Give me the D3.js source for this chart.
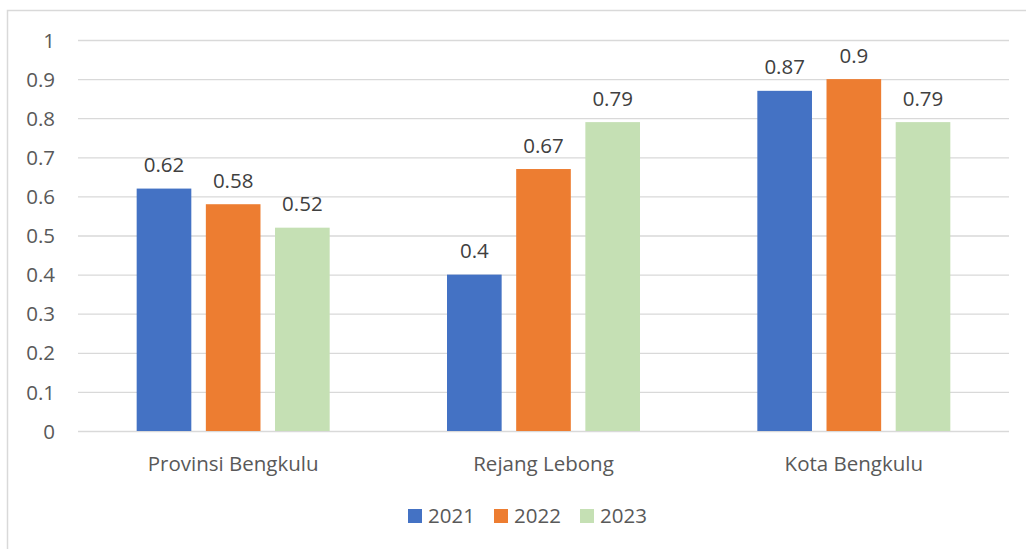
<!DOCTYPE html>
<html><head><meta charset="utf-8">
<script src="https://cdn.jsdelivr.net/npm/d3@7"></script>
<style>body{margin:0;background:#fff}svg{display:block}text{font-family:"Open Sans",sans-serif}</style>
</head><body>
<svg id="c" width="1026" height="549"></svg>
<script>
const categories = ["Provinsi Bengkulu", "Rejang Lebong", "Kota Bengkulu"];
const seriesNames = ["2021", "2022", "2023"];
const values2021 = [0.62, 0.4, 0.87];
const values2022 = [0.58, 0.67, 0.9];
const values2023 = [0.52, 0.79, 0.79];
const yTicks = [0, 0.1, 0.2, 0.3, 0.4, 0.5, 0.6, 0.7, 0.8, 0.9, 1];
const colors = ["#4472C4", "#ED7D31", "#C5E0B4"];

const series = [values2021, values2022, values2023];
const svg = d3.select("#c");
svg.append("rect").attr("x", 7.5).attr("y", 10.5).attr("width", 1040).attr("height", 560)
  .attr("fill", "#fff").attr("stroke", "#D9D9D9").attr("stroke-width", 1.5);

const plotL = 78, plotR = 1009, plotT = 40, plotB = 431;
const y = d3.scaleLinear().domain([0, 1]).range([plotB, plotT]);
const x0 = d3.scaleBand().domain(categories).range([plotL, plotR]);
const x1 = d3.scaleBand().domain(seriesNames).range([-96.5, 96.5]).paddingInner(0.21);

const grid = svg.append("g").attr("transform", `translate(${plotL},0)`)
  .call(d3.axisLeft(y).tickValues(yTicks).tickSize(-(plotR - plotL)).tickFormat(d => d3.format("")(d)));
grid.select(".domain").remove();
grid.selectAll(".tick line").attr("stroke", "#D9D9D9").attr("stroke-width", 1.3);
grid.selectAll(".tick text").attr("x", -23).attr("fill", "#595959")
  .style("font-size", "20.5px").style("font-family", "'Open Sans',sans-serif").attr("dy", "0.35em");

categories.forEach((cat, ci) => {
  const g = svg.append("g").attr("transform", `translate(${x0(cat) + x0.bandwidth() / 2},0)`);
  seriesNames.forEach((s, si) => {
    const v = series[si][ci];
    g.append("rect").attr("x", x1(s)).attr("y", y(v)).attr("width", x1.bandwidth())
      .attr("height", y(0) - y(v)).attr("fill", colors[si]);
    g.append("text").attr("x", x1(s) + x1.bandwidth() / 2).attr("y", y(v) - 16.5)
      .attr("text-anchor", "middle").attr("fill", "#404040").style("font-size", "20.5px").text(v);
  });
  svg.append("text").attr("x", x0(cat) + x0.bandwidth() / 2).attr("y", 471)
    .attr("text-anchor", "middle").attr("fill", "#595959").style("font-size", "20.5px").text(cat);
});

const legendX = [408, 494, 580];
seriesNames.forEach((s, i) => {
  svg.append("rect").attr("x", legendX[i]).attr("y", 509).attr("width", 14).attr("height", 14).attr("fill", colors[i]);
  svg.append("text").attr("x", legendX[i] + 20).attr("y", 523).attr("fill", "#595959")
    .style("font-size", "20.5px").text(s);
});
</script>
</body></html>
